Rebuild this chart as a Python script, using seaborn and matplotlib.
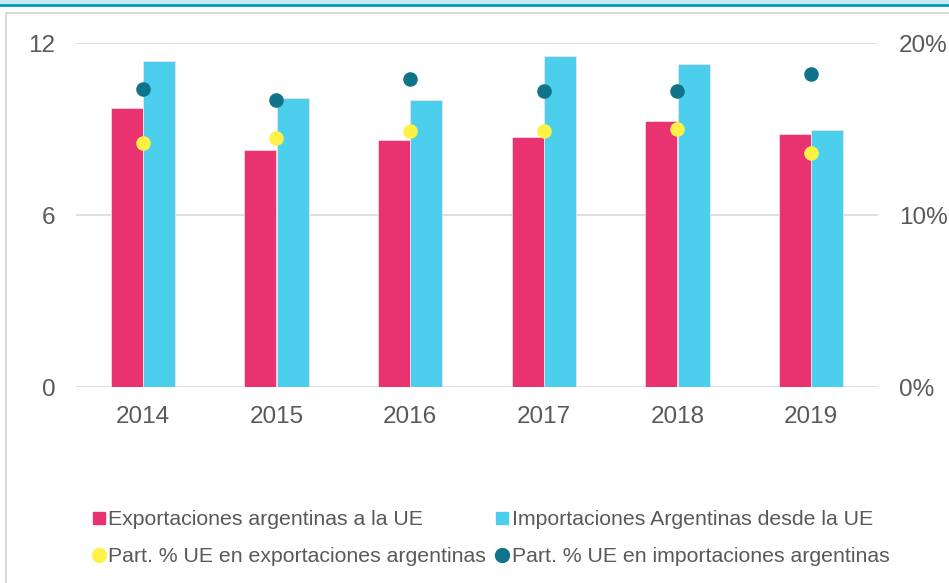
import seaborn as sns
import matplotlib.pyplot as plt
import pandas as pd
from matplotlib.lines import Line2D
from matplotlib.patches import Rectangle
from matplotlib.ticker import FuncFormatter

# Values
years = ["2014", "2015", "2016", "2017", "2018", "2019"]
exportaciones = [9.72, 8.27, 8.62, 8.73, 9.28, 8.83]
importaciones = [11.36, 10.07, 10.0, 11.55, 11.27, 8.96]
part_export = [14.2, 14.5, 14.9, 14.9, 15.0, 13.6]
part_import = [17.3, 16.7, 17.9, 17.2, 17.2, 18.2]

lbl_exp = "Exportaciones argentinas a la UE"
lbl_imp = "Importaciones Argentinas desde la UE"
lbl_pexp = "Part. % UE en exportaciones argentinas"
lbl_pimp = "Part. % UE en importaciones argentinas"

c_exp = "#E83370"
c_imp = "#4BCFED"
c_pexp = "#FFF245"
c_pimp = "#0F7389"
txt = "#595959"

bars = pd.DataFrame({
    "year": years * 2,
    "value": exportaciones + importaciones,
    "serie": [lbl_exp] * len(years) + [lbl_imp] * len(years),
})

sns.set_style("white")
plt.rcParams["font.family"] = ["Liberation Sans", "DejaVu Sans"]

fig = plt.figure(figsize=(9.49, 5.83), dpi=100)
ax = fig.add_axes([76 / 949, 1 - 387 / 583, (878 - 76) / 949, (387 - 43) / 583])

sns.barplot(data=bars, x="year", y="value", hue="serie",
            palette=[c_exp, c_imp], saturation=1, width=0.48, ax=ax,
            edgecolor="#FBE3EC", linewidth=0.5, legend=False)
ax.set_ylim(0, 12)
ax.set_xlim(-0.5, len(years) - 0.5)
ax.set_yticks([0, 6, 12])
ax.yaxis.grid(True, color="#D9D9D9", linewidth=1.2)
ax.set_axisbelow(True)
ax.set_xlabel("")
ax.set_ylabel("")
for s in ax.spines.values():
    s.set_visible(False)
ax.tick_params(axis="both", length=0, labelsize=17.5, colors=txt)
ax.tick_params(axis="x", pad=14)
ax.tick_params(axis="y", pad=15)

ax2 = ax.twinx()
pos = list(range(len(years)))
sns.scatterplot(x=pos, y=part_export, color=c_pexp, s=110, linewidth=0, ax=ax2)
sns.scatterplot(x=pos, y=part_import, color=c_pimp, s=110, linewidth=0, ax=ax2)
ax2.set_ylim(0, 20)
ax2.set_yticks([0, 10, 20])
ax2.yaxis.set_major_formatter(FuncFormatter(lambda v, p: f"{v:.0f}%"))
for s in ax2.spines.values():
    s.set_visible(False)
ax2.tick_params(axis="y", length=0, labelsize=17.5, colors=txt, pad=15)

# legend
handles = [
    Line2D([], [], marker="s", linestyle="none", color=c_exp, markersize=9),
    Line2D([], [], marker="o", linestyle="none", color=c_pexp, markersize=10),
    Line2D([], [], marker="s", linestyle="none", color=c_imp, markersize=9),
    Line2D([], [], marker="o", linestyle="none", color=c_pimp, markersize=10),
]
labels = [lbl_exp, lbl_pexp, lbl_imp, lbl_pimp]
fig.legend(handles, labels, ncol=2, loc="center", bbox_to_anchor=(490 / 949, 1 - 538 / 583),
           frameon=False, fontsize=15.3, labelcolor=txt, handletextpad=0.05,
           handlelength=0.8, columnspacing=0.35, labelspacing=0.85)

# frame decorations
fig.add_artist(Rectangle((6 / 949, -0.1), 1.0, 1 - 13 / 583 + 0.1, transform=fig.transFigure,
                         fill=False, edgecolor="#D9D9D9", linewidth=1.5))
fig.add_artist(Rectangle((0, 1 - 4 / 583), 1, 4 / 583, transform=fig.transFigure,
                         facecolor="#C5E9F2", edgecolor="none"))
fig.add_artist(Line2D([0, 1], [1 - 4.5 / 583, 1 - 4.5 / 583], transform=fig.transFigure,
                      color="#0099B8", linewidth=2))

fig.savefig("out.png", dpi=100)
